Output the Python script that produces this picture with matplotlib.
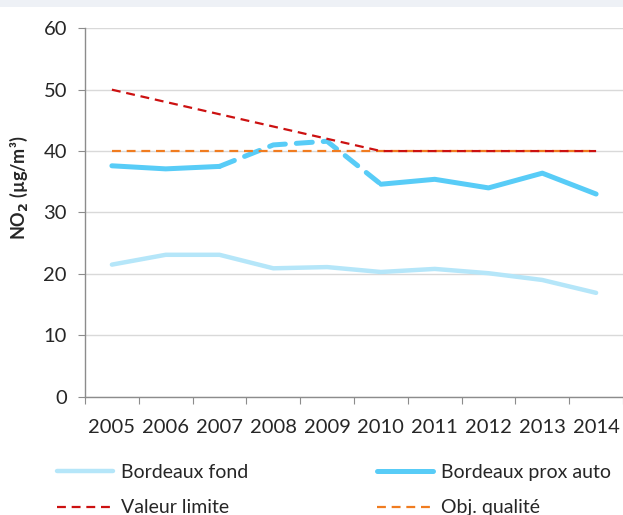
import matplotlib
matplotlib.use("Agg")
import matplotlib.pyplot as plt
from matplotlib.lines import Line2D
from matplotlib.patches import Rectangle

years = ["2005", "2006", "2007", "2008", "2009", "2010", "2011", "2012", "2013", "2014"]
bordeaux_fond = [21.5, 23.1, 23.1, 20.9, 21.1, 20.3, 20.8, 20.1, 19.0, 16.9]
bordeaux_prox_auto = [37.6, 37.1, 37.5, 41.0, 41.6, 34.6, 35.4, 34.0, 36.4, 33.0]
valeur_limite = [50, 48, 46, 44, 42, 40, 40, 40, 40, 40]
obj_qualite = [40, 40, 40, 40, 40, 40, 40, 40, 40, 40]
# years drawn with a dashed link for the roadside station
prox_dashed_span = (2, 5)

y_ticks = [0, 10, 20, 30, 40, 50, 60]

plt.rcParams["font.family"] = ["Lato", "DejaVu Sans"]

C_FOND = "#b5e6f9"
C_PROX = "#58ccf7"
C_LIM = "#cc1111"
C_OBJ = "#f07c20"
GRID = "#d9d9d9"
AXIS = "#8c8c8c"
TXT = "#262626"
DASH = (0, (4, 2.6))

fig = plt.figure(figsize=(6.23, 5.15), dpi=100)
fig.patch.set_facecolor("white")
fig.patches.append(Rectangle((0, 0.987), 1, 0.013, transform=fig.transFigure,
                             facecolor="#eef1f6", edgecolor="none", zorder=0))

ax = fig.add_axes([85 / 623, 1 - 396.6 / 515, 1 - 85 / 623, (396.6 - 28.3) / 515])
x = list(range(len(years)))

ax.set_xlim(-0.5, len(years) - 0.5)
ax.set_ylim(0, 60)
ax.set_yticks(y_ticks)
ax.yaxis.grid(True, color=GRID, linewidth=1.0)
ax.set_axisbelow(True)

for s in ["top", "right"]:
    ax.spines[s].set_visible(False)
ax.spines["left"].set_color(AXIS)
ax.spines["bottom"].set_color(AXIS)
ax.spines["left"].set_linewidth(1.0)
ax.spines["bottom"].set_linewidth(1.0)

# category boundaries carry the tick marks, labels sit at category centres
ax.set_xticks([i - 0.5 for i in range(len(years) + 1)])
ax.set_xticklabels([])
ax.set_xticks(x, minor=True)
ax.set_xticklabels(years, minor=True)
ax.tick_params(axis="x", which="major", length=5, color=AXIS, direction="out")
ax.tick_params(axis="x", which="minor", length=0, pad=16, labelsize=14.5, labelcolor=TXT)
ax.tick_params(axis="y", length=5, color=AXIS, direction="out", pad=8,
               labelsize=14.5, labelcolor=TXT)

ax.set_ylabel("NO$_\\mathbf{2}$ (µg/m³)", fontsize=13, fontweight="bold", color=TXT)
ax.yaxis.set_label_coords(-55 / 538, (396.6 - 188) / (396.6 - 28.3))

lw_main = 3.6
ax.plot(x, bordeaux_fond, color=C_FOND, linewidth=3.2, solid_capstyle="round", zorder=3)

a, b = prox_dashed_span
ax.plot(x[:a + 1], bordeaux_prox_auto[:a + 1], color=C_PROX, linewidth=lw_main,
        solid_capstyle="round", solid_joinstyle="round", zorder=4)
ax.plot(x[a:b + 1], bordeaux_prox_auto[a:b + 1], color=C_PROX, linewidth=lw_main,
        linestyle=(0, (3.2, 2.2)), dash_capstyle="round", zorder=4)
ax.plot(x[b:], bordeaux_prox_auto[b:], color=C_PROX, linewidth=lw_main,
        solid_capstyle="round", solid_joinstyle="round", zorder=4)

ax.plot(x, obj_qualite, color=C_OBJ, linewidth=1.6, linestyle=DASH, zorder=5)
ax.plot(x, valeur_limite, color=C_LIM, linewidth=1.6, linestyle=DASH, zorder=6)

handles = [
    Line2D([], [], color=C_FOND, linewidth=3.2, solid_capstyle="round"),
    Line2D([], [], color=C_LIM, linewidth=1.6, linestyle=DASH),
    Line2D([], [], color=C_PROX, linewidth=lw_main, solid_capstyle="round"),
    Line2D([], [], color=C_OBJ, linewidth=1.6, linestyle=DASH),
]
labels = ["Bordeaux fond", "Valeur limite", "Bordeaux prox auto", "Obj. qualité"]
leg = fig.legend(handles, labels, ncol=2, loc="upper left",
                 bbox_to_anchor=(57 / 623, 1 - 464 / 515), frameon=False,
                 fontsize=14, handlelength=2.9, handletextpad=0.4,
                 columnspacing=6.6, labelspacing=0.95, labelcolor=TXT,
                 borderaxespad=0, borderpad=0)

fig.savefig("out.png", dpi=100)
